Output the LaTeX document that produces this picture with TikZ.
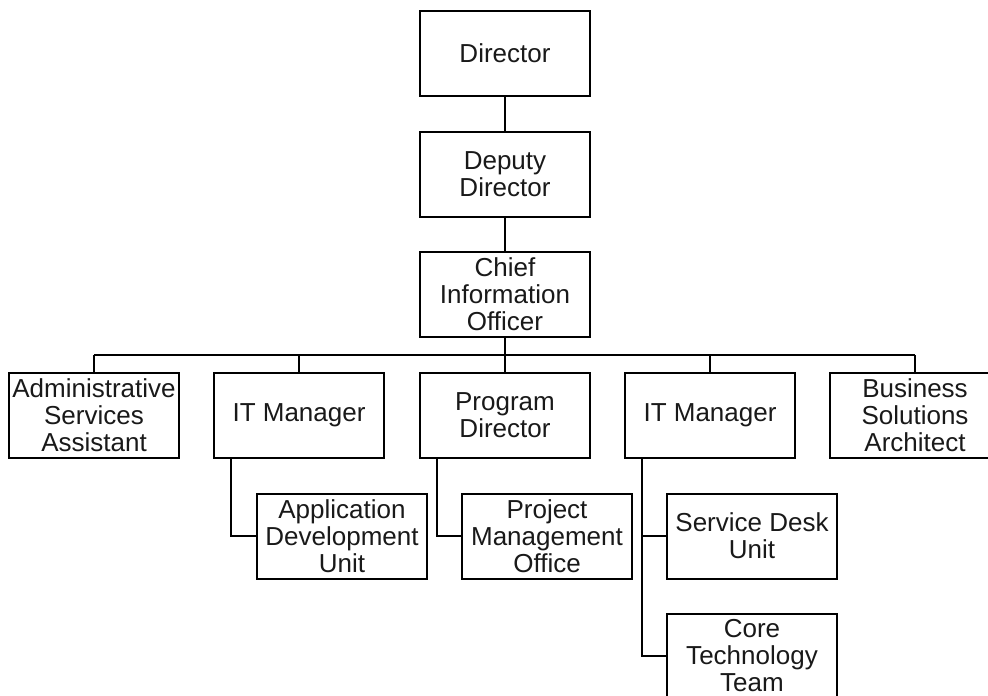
\documentclass[tikz,border=0pt]{standalone}
\usepackage{fontspec}
\setmainfont{Liberation Sans}
\begin{document}
\begin{tikzpicture}[x=1pt,y=-1pt,
  box/.style={draw=black,line width=2pt,minimum width=170pt,minimum height=85pt,inner sep=0pt,align=center,
    font=\fontsize{26}{27}\selectfont,text=black!90},
  conn/.style={draw=black,line width=2pt}]
\useasboundingbox (0,0) rectangle (988,696);
\node[box] (dir) at (505,53) {Director};
\node[box] (dep) at (505,174) {Deputy\\Director};
\node[box] (cio) at (505,294) {Chief\\Information\\Officer};
\node[box] (adm) at (94,415) {Administrative\\Services\\Assistant};
\node[box] (itm1) at (299,415) {IT Manager};
\node[box] (pd) at (505,415) {Program\\Director};
\node[box] (itm2) at (710,415) {IT Manager};
\node[box] (bsa) at (915,415) {Business\\Solutions\\Architect};
\node[box] (adu) at (342,536) {Application\\Development\\Unit};
\node[box] (pmo) at (547,536) {Project\\Management\\Office};
\node[box] (sdu) at (752,536) {Service Desk\\Unit};
\node[box] (ctt) at (752,656) {Core\\Technology\\Team};
\coordinate (busl) at (94,355);
\coordinate (busr) at (915,355);
\draw[conn] (dir) -- (dep);
\draw[conn] (dep) -- (cio);
\draw[conn] (cio) -- (pd);
\draw[conn] (busl) -- (busr);
\draw[conn] (busl) -- (adm.north);
\draw[conn] (299,355) -- (itm1.north);
\draw[conn] (710,355) -- (itm2.north);
\draw[conn] (busr) -- (bsa.north);
\draw[conn] (itm1.south west) ++(18,0) |- (adu.west);
\draw[conn] (pd.south west) ++(18,0) |- (pmo.west);
\draw[conn] (itm2.south west) ++(18,0) |- (sdu.west);
\draw[conn] (itm2.south west) ++(18,0) |- (ctt.west);
\end{tikzpicture}
\end{document}
